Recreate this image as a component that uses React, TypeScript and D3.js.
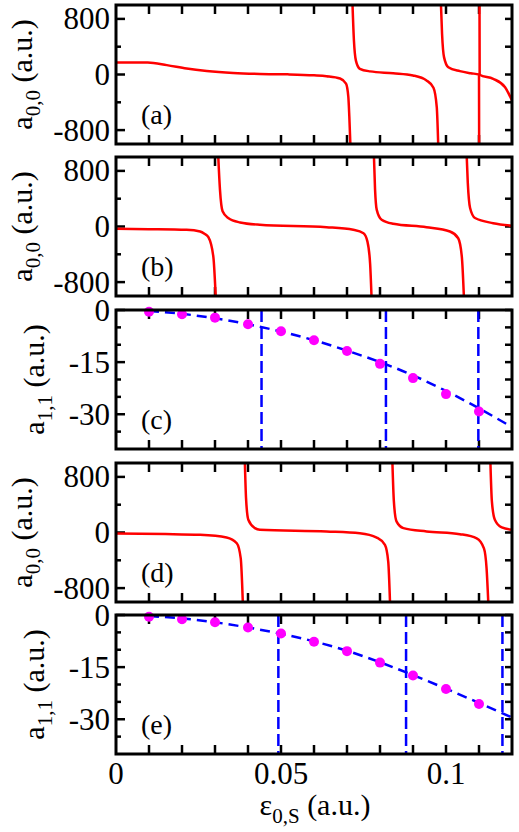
import React from 'react';
import * as d3 from 'd3';

// energy axis
const epsTicks = [0, 0.05, 0.1];
const epsMinor = [0.01, 0.02, 0.03, 0.04, 0.05, 0.06, 0.07, 0.08, 0.09, 0.1, 0.11];

// a_{0,0} branches (each branch runs between two poles)
const aBranches: [number, number][][] = [
  [[0, 173], [0.0096, 172], [0.0154, 135], [0.0214, 85], [0.0275, 50], [0.0355, 22], [0.0436, 8], [0.052, 2], [0.06, -12], [0.0638, -25], [0.0679, -58], [0.0697, -130], [0.0704, -320], [0.0707, -600], [0.0711, -1100]],
  [[0.0716, 1100], [0.0721, 490], [0.0727, 200], [0.0739, 82], [0.077, 45], [0.084, 18], [0.09, -14], [0.0941, -86], [0.0962, -190], [0.0972, -470], [0.0977, -1100]],
  [[0.0984, 1100], [0.0988, 590], [0.0994, 250], [0.1007, 105], [0.1042, 48], [0.1075, 18], [0.11, 0], [0.11005, -1100]],
  [[0.11015, 1100], [0.1102, -3], [0.1143, -62], [0.1179, -183], [0.12, -375]],
];

const bBranches: [number, number][][] = [
  [[0, -33], [0.01, -38], [0.0214, -48], [0.0255, -72], [0.0268, -105], [0.028, -154], [0.0295, -436], [0.0303, -1100]],
  [[0.0309, 1100], [0.0315, 534], [0.0323, 218], [0.034, 122], [0.0376, 58], [0.0436, 25], [0.0638, -10], [0.0719, -48], [0.075, -96], [0.0762, -218], [0.077, -532], [0.0775, -1100]],
  [[0.0781, 1100], [0.0785, 534], [0.079, 243], [0.0805, 97], [0.084, 39], [0.0941, -10], [0.1012, -72], [0.1037, -169], [0.1048, -436], [0.1055, -1100]],
  [[0.1062, 1100], [0.1066, 631], [0.1073, 267], [0.1088, 122], [0.1143, 48], [0.12, 10]],
];

const dBranches: [number, number][][] = [
  [[0, -15], [0.015, -22], [0.0255, -34], [0.0335, -73], [0.0366, -155], [0.0378, -373], [0.0385, -1100]],
  [[0.039, 1100], [0.0394, 499], [0.0401, 184], [0.0421, 63], [0.0436, 39], [0.0638, 15], [0.0739, -10], [0.079, -73], [0.0815, -179], [0.0825, -422], [0.0831, -1100]],
  [[0.0837, 1100], [0.0842, 451], [0.085, 160], [0.0871, 63], [0.0941, 15], [0.1042, -24], [0.1093, -83], [0.1115, -228], [0.1123, -519], [0.1129, -1100]],
  [[0.1134, 1100], [0.1139, 451], [0.1148, 184], [0.1169, 73], [0.12, 39]],
];

// a_{1,1}: computed points and fitted curve
const dotEps = [0.01, 0.02, 0.03, 0.04, 0.05, 0.06, 0.07, 0.08, 0.09, 0.1, 0.11];
const fitEps = [0.01, 0.02, 0.03, 0.04, 0.05, 0.06, 0.07, 0.08, 0.09, 0.1, 0.11, 0.12];
const cDots = [-0.5, -1.2, -2.2, -4.1, -6.1, -8.7, -11.8, -15.5, -19.6, -24.2, -29.2];
const cFit = [-0.3, -1.1, -2.4, -4.1, -6.2, -8.7, -11.7, -15.0, -18.8, -23.3, -28.3, -33.7];
const cPoles = [0.0441, 0.0818, 0.1098];
const eDots = [-0.5, -1.2, -2.1, -3.6, -5.3, -7.7, -10.4, -13.7, -17.4, -21.3, -25.6];
const eFit = [-0.3, -1.0, -2.1, -3.6, -5.4, -7.6, -10.3, -13.6, -17.3, -21.2, -25.3, -29.5];
const ePoles = [0.0492, 0.0879, 0.1171];

const a00Major = [-800, 0, 800];
const a00Minor = [-400, 400];
const a11Major = [0, -15, -30];
const a11Minor = [-5, -10, -20, -25, -35];

const W = 519;
const H = 832;
const left = 116;
const right = 512;
const panelH = 139;
const font = '"Liberation Serif", "Times New Roman", serif';

const x = d3.scaleLinear().domain([0, 0.12]).range([left, right]);

type PanelDef = {
  id: string;
  top: number;
  label: string;
  kind: 'a00' | 'a11';
  branches?: [number, number][][];
  dots?: number[];
  fit?: number[];
  poles?: number[];
};

const panels: PanelDef[] = [
  { id: 'a', top: 5, label: '(a)', kind: 'a00', branches: aBranches },
  { id: 'b', top: 157, label: '(b)', kind: 'a00', branches: bBranches },
  { id: 'c', top: 310, label: '(c)', kind: 'a11', dots: cDots, fit: cFit, poles: cPoles },
  { id: 'd', top: 463, label: '(d)', kind: 'a00', branches: dBranches },
  { id: 'e', top: 615, label: '(e)', kind: 'a11', dots: eDots, fit: eFit, poles: ePoles },
];

function Panel({ p, last }: { p: PanelDef; last: boolean }) {
  const bottom = p.top + panelH;
  const y = d3.scaleLinear()
    .domain(p.kind === 'a00' ? [-1000, 1000] : [-40, 0])
    .range([bottom, p.top]);
  const major = p.kind === 'a00' ? a00Major : a11Major;
  const minor = p.kind === 'a00' ? a00Minor : a11Minor;

  const line = d3.line<[number, number]>()
    .x(d => x(d[0]))
    .y(d => y(d[1]))
    .curve(d3.curveMonotoneX);

  const fitLine = d3.line<number>()
    .x((_, i) => x(fitEps[i]))
    .y(d => y(d))
    .curve(d3.curveMonotoneX);

  const clipId = `clip-${p.id}`;
  const sub = p.kind === 'a00' ? '0,0' : '1,1';
  const titleX = p.kind === 'a00' ? 32 : 44;
  const midY = p.top + panelH / 2;

  return (
    <g>
      <clipPath id={clipId}>
        <rect x={left} y={p.top} width={right - left} height={panelH} />
      </clipPath>

      {/* ticks on all four sides, pointing inward */}
      <g stroke="#000" strokeWidth={2.5}>
        {epsMinor.map(t => (
          <g key={t}>
            <line x1={x(t)} x2={x(t)} y1={bottom} y2={bottom - 9} />
            <line x1={x(t)} x2={x(t)} y1={p.top} y2={p.top + 9} />
          </g>
        ))}
        {major.map(t => (
          <g key={t}>
            <line x1={left} x2={left + 9} y1={y(t)} y2={y(t)} />
            <line x1={right} x2={right - 7} y1={y(t)} y2={y(t)} />
          </g>
        ))}
        {minor.map(t => (
          <g key={t}>
            <line x1={left} x2={left + 5} y1={y(t)} y2={y(t)} />
            <line x1={right} x2={right - 7} y1={y(t)} y2={y(t)} />
          </g>
        ))}
      </g>

      <g clipPath={`url(#${clipId})`}>
        {p.branches && p.branches.map((b, i) => (
          <path key={i} d={line(b) || ''} fill="none" stroke="#ff0000" strokeWidth={2.5} />
        ))}
        {p.poles && p.poles.map(e => (
          <line key={e} x1={x(e)} x2={x(e)} y1={p.top} y2={bottom}
            stroke="#0000ff" strokeWidth={2.5} strokeDasharray="12,5" />
        ))}
        {p.fit && (
          <path d={fitLine(p.fit) || ''} fill="none" stroke="#0000ff" strokeWidth={2.5} strokeDasharray="10,6" />
        )}
      </g>

      {p.dots && p.dots.map((v, i) => (
        <circle key={i} cx={x(dotEps[i])} cy={y(v)} r={5} fill="#ff00ff" />
      ))}

      <rect x={left} y={p.top} width={right - left} height={panelH}
        fill="none" stroke="#000" strokeWidth={3} />

      <g fontFamily={font} fontSize={31} textAnchor="end">
        {major.map(t => (
          <text key={t} x={110} y={y(t)} dy="0.34em">{t}</text>
        ))}
      </g>

      <text x={141} y={p.top + 119} fontFamily={font} fontSize={28}>{p.label}</text>

      <text transform={`translate(${titleX},${midY}) rotate(-90)`} textAnchor="middle"
        fontFamily={font} fontSize={30}>
        a<tspan dy={8} fontSize={21}>{sub}</tspan><tspan dy={-8}> (a.u.)</tspan>
      </text>

      {last && (
        <g fontFamily={font} fontSize={31} textAnchor="middle">
          {epsTicks.map(t => (
            <text key={t} x={x(t)} y={784}>{t}</text>
          ))}
        </g>
      )}
    </g>
  );
}

export default function App() {
  return (
    <svg width={W} height={H} style={{ position: 'absolute', left: 0, top: 0, background: '#fff' }}>
      {panels.map((p, i) => (
        <Panel key={p.id} p={p} last={i === panels.length - 1} />
      ))}
      <text x={315} y={815} textAnchor="middle" fontFamily={font} fontSize={30}>
        ε<tspan dy={8} fontSize={21}>0,S</tspan><tspan dy={-8}> (a.u.)</tspan>
      </text>
    </svg>
  );
}
